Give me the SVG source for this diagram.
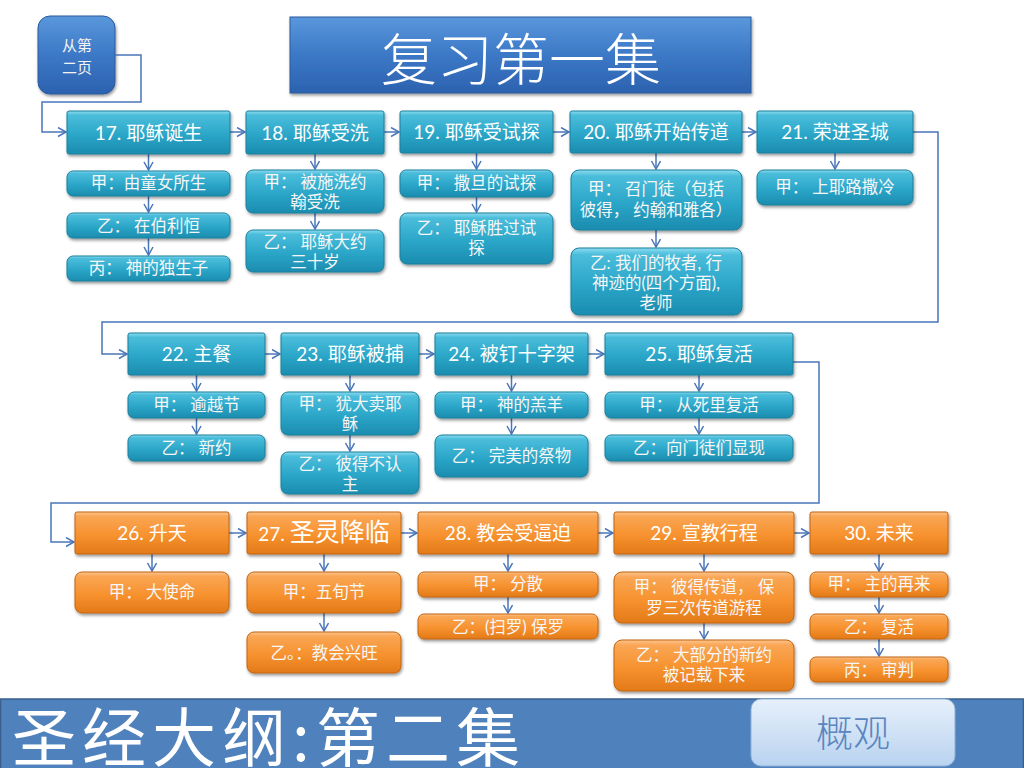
<svg xmlns="http://www.w3.org/2000/svg" width="1024" height="768" viewBox="0 0 1024 768">
<defs>
<linearGradient id="gT" x1="0" y1="0" x2="0" y2="1">
<stop offset="0" stop-color="#8cdcf0"/><stop offset="0.1" stop-color="#4bbddb"/><stop offset="0.55" stop-color="#2ba6c8"/><stop offset="1" stop-color="#1b8caf"/>
</linearGradient>
<linearGradient id="gO" x1="0" y1="0" x2="0" y2="1">
<stop offset="0" stop-color="#fdc690"/><stop offset="0.1" stop-color="#f9a655"/><stop offset="0.55" stop-color="#f7922f"/><stop offset="1" stop-color="#e27a18"/>
</linearGradient>
<linearGradient id="gB" x1="0" y1="0" x2="0" y2="1">
<stop offset="0" stop-color="#5a97dc"/><stop offset="0.5" stop-color="#3c78c6"/><stop offset="1" stop-color="#2c62b0"/>
</linearGradient>
<linearGradient id="gL" x1="0" y1="0" x2="0" y2="1">
<stop offset="0" stop-color="#e6f0fb"/><stop offset="1" stop-color="#b9d3f0"/>
</linearGradient>
<filter id="sh" x="-10%" y="-20%" width="130%" height="160%">
<feDropShadow dx="1" dy="2" stdDeviation="1.5" flood-color="#000" flood-opacity="0.4"/>
</filter>
<marker id="ar" markerUnits="userSpaceOnUse" markerWidth="12" markerHeight="12" refX="9" refY="5" orient="auto">
<path d="M1,0.5 L9,5 L1,9.5" fill="none" stroke="#4a76b8" stroke-width="1.5"/>
</marker>
</defs>
<style>
.hT{fill:url(#gT);stroke:#1d7f9b;stroke-width:1;filter:url(#sh)}
.sT{fill:url(#gT);stroke:#1d7f9b;stroke-width:1;filter:url(#sh)}
.hO{fill:url(#gO);stroke:#c06510;stroke-width:1;filter:url(#sh)}
.sO{fill:url(#gO);stroke:#c06510;stroke-width:1;filter:url(#sh)}
.ht{font-family:Lato,"Noto Sans CJK SC",sans-serif;font-size:19px;fill:#ffffff;text-anchor:middle}
.st{font-family:Lato,"Noto Sans CJK SC",sans-serif;font-size:16.5px;fill:#f6f6f6;text-anchor:middle}
.cn{fill:none;stroke:#4a76b8;stroke-width:1.5}
</style>
<rect width="1024" height="768" fill="#ffffff"/>

<g id="title">
<rect x="290" y="17" width="461" height="76" fill="url(#gB)" stroke="#2a5a9c" filter="url(#sh)"/>
<text x="521" y="80" font-family="'Noto Sans CJK SC',sans-serif" font-size="56" font-weight="300" fill="#ffffff" text-anchor="middle">复习第一集</text>
</g>

<g id="from-page2">
<rect x="38" y="16" width="77" height="78" rx="12" fill="url(#gB)" stroke="#2a5a9c" filter="url(#sh)"/>
<text x="77" y="51" font-family="'Noto Sans CJK SC',sans-serif" font-size="15" fill="#f4f4f4" text-anchor="middle">从第</text>
<text x="77" y="73" font-family="'Noto Sans CJK SC',sans-serif" font-size="15" fill="#f4f4f4" text-anchor="middle">二页</text>
</g>

<g id="connectors">
<path class="cn" d="M115,55 H141 V102 H42 V132 H66" marker-end="url(#ar)"/>
<path class="cn" d="M913,132 H938 V322 H102 V354 H127" marker-end="url(#ar)"/>
<path class="cn" d="M793,362 H819 V503 H51 V542 H74" marker-end="url(#ar)"/>
<path class="cn" d="M230,132 H245" marker-end="url(#ar)"/>
<path class="cn" d="M384,132 H399" marker-end="url(#ar)"/>
<path class="cn" d="M553,132 H569" marker-end="url(#ar)"/>
<path class="cn" d="M742,132 H756" marker-end="url(#ar)"/>
<path class="cn" d="M265,354 H280" marker-end="url(#ar)"/>
<path class="cn" d="M419,354 H434" marker-end="url(#ar)"/>
<path class="cn" d="M588,354 H604" marker-end="url(#ar)"/>
<path class="cn" d="M229,533 H246" marker-end="url(#ar)"/>
<path class="cn" d="M401,533 H417" marker-end="url(#ar)"/>
<path class="cn" d="M598,533 H613" marker-end="url(#ar)"/>
<path class="cn" d="M794,533 H809" marker-end="url(#ar)"/>
<path class="cn" d="M148.5,154 V170" marker-end="url(#ar)"/>
<path class="cn" d="M148.5,196 V212" marker-end="url(#ar)"/>
<path class="cn" d="M148.5,238 V255" marker-end="url(#ar)"/>
<path class="cn" d="M315,154 V169" marker-end="url(#ar)"/>
<path class="cn" d="M315,213 V229" marker-end="url(#ar)"/>
<path class="cn" d="M476.5,153 V169" marker-end="url(#ar)"/>
<path class="cn" d="M476.5,197 V212" marker-end="url(#ar)"/>
<path class="cn" d="M656,153 V169" marker-end="url(#ar)"/>
<path class="cn" d="M656,230 V247" marker-end="url(#ar)"/>
<path class="cn" d="M835,153 V169" marker-end="url(#ar)"/>
<path class="cn" d="M196.5,375 V391" marker-end="url(#ar)"/>
<path class="cn" d="M196.5,418 V434" marker-end="url(#ar)"/>
<path class="cn" d="M350,375 V391" marker-end="url(#ar)"/>
<path class="cn" d="M350,435 V451" marker-end="url(#ar)"/>
<path class="cn" d="M511.5,375 V391" marker-end="url(#ar)"/>
<path class="cn" d="M511.5,418 V434" marker-end="url(#ar)"/>
<path class="cn" d="M699,375 V391" marker-end="url(#ar)"/>
<path class="cn" d="M699,418 V434" marker-end="url(#ar)"/>
<path class="cn" d="M152,554 V571" marker-end="url(#ar)"/>
<path class="cn" d="M324,554 V571" marker-end="url(#ar)"/>
<path class="cn" d="M324,613 V631" marker-end="url(#ar)"/>
<path class="cn" d="M508,554 V571" marker-end="url(#ar)"/>
<path class="cn" d="M508,597 V613" marker-end="url(#ar)"/>
<path class="cn" d="M704,554 V571" marker-end="url(#ar)"/>
<path class="cn" d="M704,623 V639" marker-end="url(#ar)"/>
<path class="cn" d="M879,554 V571" marker-end="url(#ar)"/>
<path class="cn" d="M879,597 V613" marker-end="url(#ar)"/>
<path class="cn" d="M879,639 V656" marker-end="url(#ar)"/>
</g>

<g id="n17">
<rect class="hT" x="67" y="111" width="163" height="43" rx="2"/>
<text class="ht" x="148.5" y="140">17. 耶稣诞生</text>
<rect class="sT" x="67" y="171" width="163" height="25" rx="6"/>
<text class="st" x="148.5" y="189">甲：由童女所生</text>
<rect class="sT" x="67" y="213" width="163" height="25" rx="6"/>
<text class="st" x="148.5" y="232">乙： 在伯利恒</text>
<rect class="sT" x="67" y="256" width="163" height="25" rx="6"/>
<text class="st" x="148.5" y="274">丙： 神的独生子</text>
</g>

<g id="n18">
<rect class="hT" x="246" y="111" width="138" height="43" rx="2"/>
<text class="ht" x="315" y="140">18. 耶稣受洗</text>
<rect class="sT" x="246" y="170" width="138" height="43" rx="7"/>
<text class="st" x="315" y="188">甲： 被施洗约</text>
<text class="st" x="315" y="208">翰受洗</text>
<rect class="sT" x="246" y="230" width="138" height="42" rx="7"/>
<text class="st" x="315" y="248">乙： 耶稣大约</text>
<text class="st" x="315" y="268">三十岁</text>
</g>

<g id="n19">
<rect class="hT" x="400" y="111" width="153" height="42" rx="2"/>
<text class="ht" x="476.5" y="139">19. 耶稣受试探</text>
<rect class="sT" x="400" y="170" width="153" height="27" rx="6"/>
<text class="st" x="476.5" y="189">甲： 撒旦的试探</text>
<rect class="sT" x="400" y="213" width="153" height="51" rx="7"/>
<text class="st" x="476.5" y="234">乙： 耶稣胜过试</text>
<text class="st" x="476.5" y="254">探</text>
</g>

<g id="n20">
<rect class="hT" x="570" y="111" width="172" height="42" rx="2"/>
<text class="ht" x="656" y="139">20. 耶稣开始传道</text>
<rect class="sT" x="571" y="170" width="171" height="60" rx="8"/>
<text class="st" x="656" y="195">甲： 召门徒（包括</text>
<text class="st" x="656" y="216">彼得， 约翰和雅各）</text>
<rect class="sT" x="571" y="248" width="171" height="67" rx="8"/>
<text class="st" x="656" y="269">乙: 我们的牧者, 行</text>
<text class="st" x="656" y="289">神迹的(四个方面),</text>
<text class="st" x="656" y="309">老师</text>
</g>

<g id="n21">
<rect class="hT" x="757" y="111" width="156" height="42" rx="2"/>
<text class="ht" x="835" y="139">21. 荣进圣城</text>
<rect class="sT" x="757" y="170" width="156" height="35" rx="7"/>
<text class="st" x="835" y="193">甲： 上耶路撒冷</text>
</g>

<g id="n22">
<rect class="hT" x="128" y="333" width="137" height="42" rx="2"/>
<text class="ht" x="196.5" y="361">22. 主餐</text>
<rect class="sT" x="128" y="392" width="137" height="26" rx="6"/>
<text class="st" x="196.5" y="411">甲： 逾越节</text>
<rect class="sT" x="128" y="435" width="137" height="26" rx="6"/>
<text class="st" x="196.5" y="454">乙： 新约</text>
</g>

<g id="n23">
<rect class="hT" x="281" y="333" width="138" height="42" rx="2"/>
<text class="ht" x="350" y="361">23. 耶稣被捕</text>
<rect class="sT" x="281" y="392" width="138" height="43" rx="7"/>
<text class="st" x="350" y="410">甲： 犹大卖耶</text>
<text class="st" x="350" y="430">稣</text>
<rect class="sT" x="281" y="452" width="138" height="42" rx="7"/>
<text class="st" x="350" y="470">乙： 彼得不认</text>
<text class="st" x="350" y="490">主</text>
</g>

<g id="n24">
<rect class="hT" x="435" y="333" width="153" height="42" rx="2"/>
<text class="ht" x="511.5" y="361">24. 被钉十字架</text>
<rect class="sT" x="435" y="392" width="153" height="26" rx="6"/>
<text class="st" x="511.5" y="411">甲： 神的羔羊</text>
<rect class="sT" x="435" y="435" width="153" height="42" rx="7"/>
<text class="st" x="511.5" y="462">乙： 完美的祭物</text>
</g>

<g id="n25">
<rect class="hT" x="605" y="333" width="188" height="42" rx="2"/>
<text class="ht" x="699" y="361">25. 耶稣复活</text>
<rect class="sT" x="605" y="392" width="188" height="26" rx="6"/>
<text class="st" x="699" y="411">甲： 从死里复活</text>
<rect class="sT" x="605" y="435" width="188" height="26" rx="6"/>
<text class="st" x="699" y="454">乙：向门徒们显现</text>
</g>

<g id="n26">
<rect class="hO" x="75" y="512" width="154" height="42" rx="2"/>
<text class="ht" x="152" y="540">26. 升天</text>
<rect class="sO" x="75" y="572" width="154" height="41" rx="7"/>
<text class="st" x="152" y="598">甲： 大使命</text>
</g>

<g id="n27">
<rect class="hO" x="247" y="512" width="154" height="42" rx="2"/>
<text class="ht" x="324" y="541">27. <tspan font-size="25">圣灵降临</tspan></text>
<rect class="sO" x="247" y="572" width="154" height="41" rx="7"/>
<text class="st" x="324" y="598">甲：五旬节</text>
<rect class="sO" x="247" y="632" width="154" height="41" rx="7"/>
<text class="st" x="324" y="659">乙。：教会兴旺</text>
</g>

<g id="n28">
<rect class="hO" x="418" y="512" width="180" height="42" rx="2"/>
<text class="ht" x="508" y="540">28. 教会受逼迫</text>
<rect class="sO" x="418" y="572" width="180" height="25" rx="6"/>
<text class="st" x="508" y="590">甲： 分散</text>
<rect class="sO" x="418" y="614" width="180" height="25" rx="6"/>
<text class="st" x="508" y="633">乙：(扫罗) 保罗</text>
</g>

<g id="n29">
<rect class="hO" x="614" y="512" width="180" height="42" rx="2"/>
<text class="ht" x="704" y="540">29. 宣教行程</text>
<rect class="sO" x="614" y="572" width="180" height="51" rx="8"/>
<text class="st" x="704" y="593">甲： 彼得传道， 保</text>
<text class="st" x="704" y="614">罗三次传道游程</text>
<rect class="sO" x="614" y="640" width="180" height="51" rx="8"/>
<text class="st" x="704" y="661">乙： 大部分的新约</text>
<text class="st" x="704" y="681">被记载下来</text>
</g>

<g id="n30">
<rect class="hO" x="810" y="512" width="138" height="42" rx="2"/>
<text class="ht" x="879" y="540">30. 未来</text>
<rect class="sO" x="810" y="572" width="138" height="25" rx="6"/>
<text class="st" x="879" y="590">甲： 主的再来</text>
<rect class="sO" x="810" y="614" width="138" height="25" rx="6"/>
<text class="st" x="879" y="633">乙： 复活</text>
<rect class="sO" x="810" y="657" width="138" height="25" rx="6"/>
<text class="st" x="879" y="676">丙： 审判</text>
</g>

<g id="footer">
<rect x="0.5" y="699" width="1023" height="70" fill="#4f81bd" stroke="#3a5f8f" stroke-width="1.5"/>
<text x="12" y="761" font-family="'Noto Sans CJK SC',sans-serif" font-size="64" fill="#ffffff" textLength="508" lengthAdjust="spacing">圣经大纲:第二集</text>
</g>

<g id="overview">
<rect x="751" y="699" width="204" height="67" rx="10" fill="url(#gL)" stroke="#8fb0d8" stroke-width="1"/>
<text x="853" y="747" font-family="'Noto Sans CJK SC',sans-serif" font-size="37" font-weight="300" fill="#5a86c0" text-anchor="middle">概观</text>
</g>
</svg>
